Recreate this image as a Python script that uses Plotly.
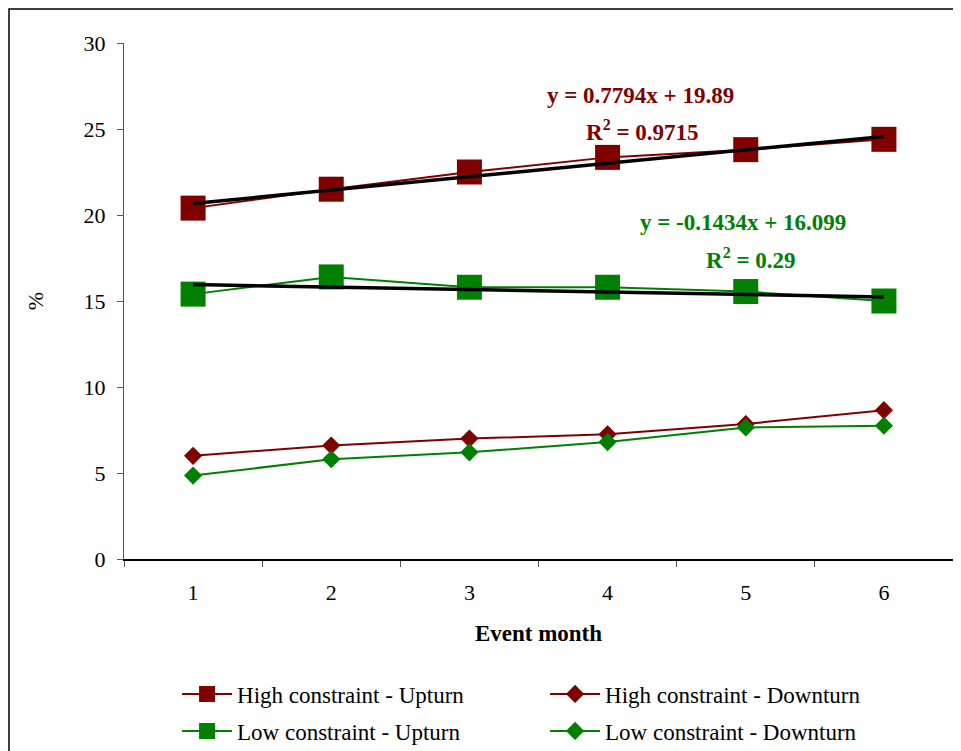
import plotly.graph_objects as go

months = ["1", "2", "3", "4", "5", "6"]
high_up = [20.4, 21.5, 22.5, 23.35, 23.8, 24.4]
high_down = [6.0, 6.6, 7.0, 7.25, 7.85, 8.65]
low_up = [15.4, 16.4, 15.8, 15.8, 15.55, 15.0]
low_down = [4.85, 5.8, 6.2, 6.8, 7.65, 7.75]

trend_slopes = [0.7794, -0.1434]
trend_intercepts = [19.89, 16.099]
trend_r2 = ["0.9715", "0.29"]

RED = "#800000"
GREEN = "#008000"
FONT = "Liberation Serif"

fig = go.Figure()

fig.add_trace(go.Scatter(x=months, y=high_up, name="High constraint - Upturn", legend="legend",
                         mode="lines+markers", line=dict(color=RED, width=2),
                         marker=dict(symbol="square", size=25, color=RED)))
fig.add_trace(go.Scatter(x=months, y=high_down, name="High constraint - Downturn", legend="legend",
                         mode="lines+markers", line=dict(color=RED, width=2),
                         marker=dict(symbol="diamond", size=14, color=RED)))
fig.add_trace(go.Scatter(x=months, y=low_up, name="Low constraint - Upturn", legend="legend2",
                         mode="lines+markers", line=dict(color=GREEN, width=2),
                         marker=dict(symbol="square", size=25, color=GREEN)))
fig.add_trace(go.Scatter(x=months, y=low_down, name="Low constraint - Downturn", legend="legend2",
                         mode="lines+markers", line=dict(color=GREEN, width=2),
                         marker=dict(symbol="diamond", size=14, color=GREEN)))

for m, b in zip(trend_slopes, trend_intercepts):
    xs = [months[0], months[-1]]
    ys = [m * float(v) + b for v in xs]
    fig.add_trace(go.Scatter(x=xs, y=ys, mode="lines", showlegend=False,
                             line=dict(color="black", width=3.5), hoverinfo="skip"))

def eq_text(m, b):
    sign = "+" if b >= 0 else "-"
    return f"y = {m:g}x {sign} {abs(b):g}"

ann = [
    (0.623, 26.95, eq_text(trend_slopes[0], trend_intercepts[0]), RED),
    (0.625, 24.9, f"R<sup>2</sup> = {trend_r2[0]}", RED),
    (0.747, 19.55, eq_text(trend_slopes[1], trend_intercepts[1]), GREEN),
    (0.756, 17.45, f"R<sup>2</sup> = {trend_r2[1]}", GREEN),
]
for x, y, t, c in ann:
    fig.add_annotation(x=x, xref="paper", y=y, yref="y", text=f"<b>{t}</b>",
                       xanchor="center", yanchor="middle",
                       showarrow=False, font=dict(family=FONT, size=23, color=c))

# page body has an 8px offset, so the figure is shrunk to fit the window
L, T, PW, PH = 116, 35, 829, 516

fig.add_shape(type="rect", xref="paper", yref="paper",
              x0=(1 - L) / PW, x1=(947 - L) / PW, y0=-0.5, y1=(T - 1) / PH + 1,
              line=dict(color="black", width=1.5), fillcolor="rgba(0,0,0,0)")

legend_common = dict(orientation="h", xanchor="left", yanchor="middle",
                     entrywidth=303, entrywidthmode="pixels",
                     font=dict(family=FONT, size=23, color="black"),
                     itemwidth=50, bgcolor="rgba(0,0,0,0)")

fig.update_layout(
    width=953, height=743,
    margin=dict(l=L, r=953 - L - PW, t=T, b=743 - T - PH, autoexpand=False),
    paper_bgcolor="white", plot_bgcolor="white",
    font=dict(family=FONT, size=22, color="black"),
    showlegend=True,
    legend=dict(x=0.064, y=(551 - 686) / PH, **legend_common),
    legend2=dict(x=0.064, y=(551 - 723) / PH, **legend_common),
    xaxis=dict(type="category", range=[-0.5, 5.5], showline=True, linecolor="black", linewidth=1.5,
               ticks="outside", tickson="boundaries", ticklen=6, tickcolor="#555",
               showgrid=False, zeroline=False, ticklabelstandoff=13,
               tickfont=dict(family=FONT, size=22),
               title=dict(text="<b>Event month</b>", font=dict(family=FONT, size=23), standoff=21)),
    yaxis=dict(range=[0, 30], dtick=5, showline=True, linecolor="#555", linewidth=1,
               ticks="outside", ticklen=6, tickcolor="#555", showgrid=False, zeroline=False,
               ticklabelstandoff=7, tickfont=dict(family=FONT, size=22),
               title=dict(text="%", font=dict(family=FONT, size=22), standoff=33)),
)

fig.write_html("out.html")
